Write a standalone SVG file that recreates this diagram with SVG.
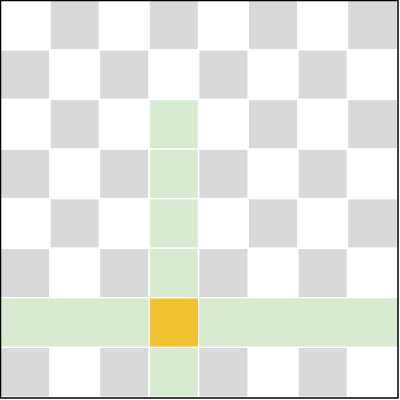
<svg xmlns="http://www.w3.org/2000/svg" width="400" height="400" viewBox="0 0 400 400">
<style>
.g{fill:#d9d9d9}.gr{fill:#d9ead3}.o{fill:#f1c232}
</style>
<rect x="0" y="0" width="400" height="400" fill="#ffffff"/>
<g id="board">
<rect class="g" x="50.6" y="1" width="48" height="48"/><rect class="g" x="149.8" y="1" width="48" height="48"/><rect class="g" x="249" y="1" width="48" height="48"/><rect class="g" x="348.2" y="1" width="48.5" height="48"/>
<rect class="g" x="1" y="50.6" width="48" height="48"/><rect class="g" x="100.2" y="50.6" width="48" height="48"/><rect class="g" x="199.4" y="50.6" width="48" height="48"/><rect class="g" x="298.6" y="50.6" width="48" height="48"/>
<rect class="g" x="50.6" y="100.2" width="48" height="48"/><rect class="gr" x="149.8" y="100.2" width="48" height="48"/><rect class="g" x="249" y="100.2" width="48" height="48"/><rect class="g" x="348.2" y="100.2" width="48.5" height="48"/>
<rect class="g" x="1" y="149.8" width="48" height="48"/><rect class="g" x="100.2" y="149.8" width="48" height="48"/><rect class="gr" x="149.8" y="149.8" width="48" height="48"/><rect class="g" x="199.4" y="149.8" width="48" height="48"/><rect class="g" x="298.6" y="149.8" width="48" height="48"/>
<rect class="g" x="50.6" y="199.4" width="48" height="48"/><rect class="gr" x="149.8" y="199.4" width="48" height="48"/><rect class="g" x="249" y="199.4" width="48" height="48"/><rect class="g" x="348.2" y="199.4" width="48.5" height="48"/>
<rect class="g" x="1" y="249" width="48" height="48"/><rect class="g" x="100.2" y="249" width="48" height="48"/><rect class="gr" x="149.8" y="249" width="48" height="48"/><rect class="g" x="199.4" y="249" width="48" height="48"/><rect class="g" x="298.6" y="249" width="48" height="48"/>
<rect class="gr" x="1" y="298.4" width="147.8" height="48.2"/><rect class="o" x="149.8" y="298.4" width="48.2" height="48.2"/><rect class="gr" x="199.2" y="298.4" width="198.8" height="48.2"/>
<rect class="g" x="1" y="348" width="48" height="48.5"/><rect class="g" x="100.2" y="348" width="48" height="48.5"/><rect class="gr" x="149.8" y="348" width="48" height="48.5"/><rect class="g" x="199.4" y="348" width="48" height="48.5"/><rect class="g" x="298.6" y="348" width="48" height="48.5"/>
</g>
<rect x="0.5" y="0.5" width="397.5" height="397.5" fill="none" stroke="#000000" stroke-width="1.5"/>
</svg>
